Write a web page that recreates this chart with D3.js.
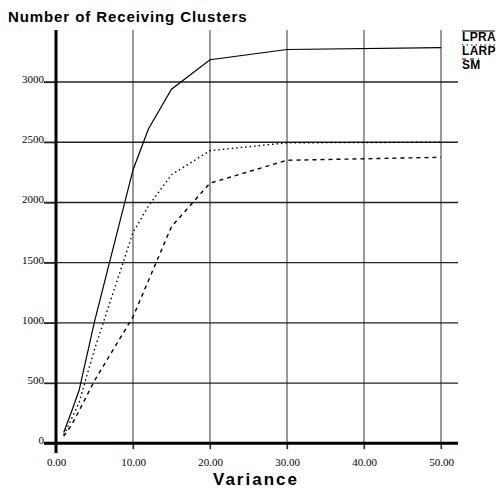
<!DOCTYPE html>
<html>
<head>
<meta charset="utf-8">
<script src="https://cdn.jsdelivr.net/npm/d3@7"></script>
<style>
  body { margin: 0; background: #fff; }
</style>
</head>
<body>
<script>
var svg_width  = 498;
var svg_height = 489;

// data
var variance = [1, 2, 3, 5, 10, 12, 15, 20, 30, 50];
var lpra = [90, 260, 440, 1010, 2270, 2610, 2940, 3185, 3270, 3285];
var larp = [70, 200, 340, 780, 1750, 1970, 2230, 2430, 2495, 2500];
var sm   = [60, 150, 270, 520, 1050, 1350, 1800, 2160, 2350, 2375];

var seriesNames = ["LPRA", "LARP", "SM"];
var xTicks = [0, 10, 20, 30, 40, 50];
var yTicks = [0, 500, 1000, 1500, 2000, 2500, 3000];

var svg = d3.select('body').append('svg')
            .attr('width', svg_width)
            .attr('height', svg_height);

var x = d3.scaleLinear().domain([0, 50]).range([56, 441]);
var y = d3.scaleLinear().domain([0, 3000]).range([443.3, 82]);

var plotRight = 458, plotTop = 30;

// vertical grid lines
svg.append("g").selectAll("line")
   .data(xTicks.slice(1))
   .enter().append("line")
   .attr("x1", d => x(d)).attr("x2", d => x(d))
   .attr("y1", plotTop).attr("y2", 449)
   .attr("stroke", "#555").attr("stroke-width", 1.2);

// horizontal grid lines
svg.append("g").selectAll("line")
   .data(yTicks.slice(1))
   .enter().append("line")
   .attr("x1", 44).attr("x2", plotRight)
   .attr("y1", d => y(d)).attr("y2", d => y(d))
   .attr("stroke", "#222").attr("stroke-width", 1.4);

// axes
var xAxis = d3.axisBottom(x).tickValues(xTicks).tickSize(6)
              .tickFormat(d3.format(".2f"));
var gx = svg.append("g").attr("transform", "translate(0," + y(0) + ")").call(xAxis);
gx.select(".domain").remove();
gx.selectAll(".tick line").attr("stroke", "#333").attr("stroke-width", 1.2);
gx.selectAll("text")
  .attr("font-family", "'Liberation Serif', 'DejaVu Serif', serif")
  .attr("font-size", 11).attr("fill", "#000").attr("dy", "1.25em");

var yAxis = d3.axisLeft(y).tickValues(yTicks).tickSize(12).tickFormat(d3.format("d"));
var gy = svg.append("g").attr("transform", "translate(" + x(0) + ",0)").call(yAxis);
gy.select(".domain").remove();
gy.selectAll(".tick line").attr("stroke", "#222").attr("stroke-width", 1.2);
gy.selectAll("text")
  .attr("font-family", "'Liberation Serif', 'DejaVu Serif', serif")
  .attr("font-size", 11).attr("fill", "#000").attr("x", -12).attr("dy", "0.05em");

// thick axis lines
svg.append("line").attr("x1", 44).attr("x2", plotRight)
   .attr("y1", y(0)).attr("y2", y(0))
   .attr("stroke", "#000").attr("stroke-width", 3);
svg.append("line").attr("x1", x(0)).attr("x2", x(0))
   .attr("y1", plotTop).attr("y2", 453)
   .attr("stroke", "#000").attr("stroke-width", 3);

// series lines
var dashes = ["none", "1.5,3", "4,4"];
var allSeries = [lpra, larp, sm];
var line = d3.line().x(d => x(d[0])).y(d => y(d[1]));

svg.append("g").selectAll("path")
   .data(allSeries)
   .enter().append("path")
   .attr("d", s => line(variance.map((v, i) => [v, s[i]])))
   .attr("fill", "none")
   .attr("stroke", "#000")
   .attr("stroke-width", (d, i) => i == 0 ? 1.2 : 1.4)
   .attr("stroke-dasharray", (d, i) => dashes[i]);

// legend
var legend = svg.append("g").selectAll("g")
   .data(seriesNames)
   .enter().append("g")
   .attr("transform", (d, i) => "translate(462," + (41 + i * 14) + ")");
legend.append("text")
   .text(d => d)
   .attr("font-family", "'Liberation Sans', Arial, sans-serif")
   .attr("font-weight", "bold").attr("font-size", 12)
   .attr("letter-spacing", 0.3);
legend.append("line")
   .attr("x1", 0).attr("x2", (d, i) => i == 2 ? 17 : 33)
   .attr("y1", -10).attr("y2", -10)
   .attr("stroke", "#000").attr("stroke-width", 1)
   .attr("stroke-dasharray", (d, i) => dashes[i]);

// titles
svg.append("text").attr("x", 8).attr("y", 22)
   .text("Number of Receiving Clusters")
   .attr("font-family", "'Liberation Sans', Arial, sans-serif")
   .attr("font-weight", "bold").attr("font-size", 15)
   .attr("letter-spacing", 0.9);
svg.append("text").attr("x", 256).attr("y", 485)
   .attr("text-anchor", "middle")
   .text("Variance")
   .attr("font-family", "'Liberation Sans', Arial, sans-serif")
   .attr("font-weight", "bold").attr("font-size", 17)
   .attr("letter-spacing", 2);
</script>
</body>
</html>
